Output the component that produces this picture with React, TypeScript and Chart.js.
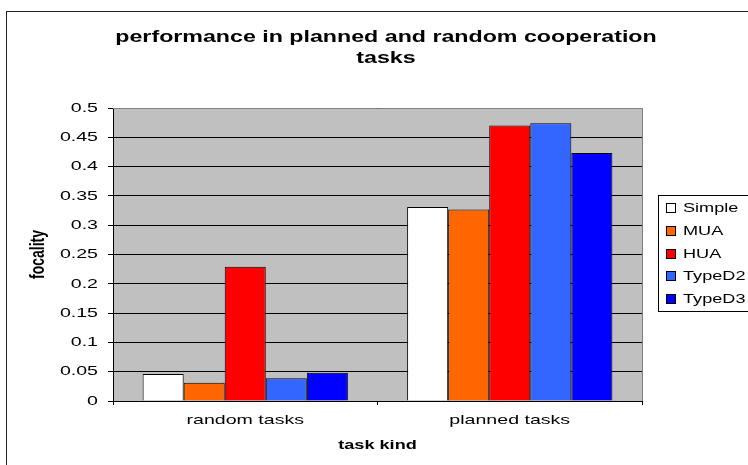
import React, { useEffect, useRef } from "react";
import { Chart, registerables } from "chart.js";

Chart.register(...registerables);

const categories = ["random tasks", "planned tasks"];
const seriesNames = ["Simple", "MUA", "HUA", "TypeD2", "TypeD3"];
const simpleValues = [0.046, 0.331];
const muaValues = [0.031, 0.327];
const huaValues = [0.229, 0.47];
const typeD2Values = [0.039, 0.474];
const typeD3Values = [0.048, 0.423];
const seriesColors = ["#ffffff", "#ff6600", "#ff0000", "#3366ff", "#0000ff"];
const titleLines = ["performance in planned and random cooperation", "tasks"];
const yTitle = "focality";
const xTitle = "task kind";

const FONT = "'Liberation Sans', Arial, sans-serif";
const SX = 1.45;

function stretchText(
  ctx: CanvasRenderingContext2D,
  text: string,
  x: number,
  y: number,
  font: string,
  align: CanvasTextAlign,
  rotate = false
) {
  ctx.save();
  ctx.translate(x, y);
  if (rotate) {
    ctx.rotate(-Math.PI / 2);
    ctx.scale(1, SX);
  } else {
    ctx.scale(SX, 1);
  }
  ctx.font = font;
  ctx.textAlign = align;
  ctx.textBaseline = "middle";
  ctx.fillStyle = "#000000";
  ctx.fillText(text, 0, 0);
  ctx.restore();
}

export default function App() {
  const ref = useRef<HTMLCanvasElement | null>(null);

  useEffect(() => {
    const canvas = ref.current;
    if (!canvas) return;
    const values = [simpleValues, muaValues, huaValues, typeD2Values, typeD3Values];

    const framePlugin = {
      id: "frame",
      beforeDraw(chart: any) {
        const { ctx, chartArea } = chart;
        ctx.save();
        ctx.fillStyle = "#ffffff";
        ctx.fillRect(0, 0, chart.width, chart.height);
        ctx.fillStyle = "#c0c0c0";
        ctx.fillRect(chartArea.left, chartArea.top, chartArea.right - chartArea.left, chartArea.bottom - chartArea.top);
        ctx.restore();
      },
      afterDraw(chart: any) {
        const { ctx, chartArea } = chart;
        ctx.save();
        // plot top/right border
        ctx.strokeStyle = "#808080";
        ctx.lineWidth = 1;
        ctx.beginPath();
        ctx.moveTo(chartArea.left, Math.round(chartArea.top) + 0.5);
        ctx.lineTo(Math.round(chartArea.right) + 0.5, Math.round(chartArea.top) + 0.5);
        ctx.lineTo(Math.round(chartArea.right) + 0.5, chartArea.bottom);
        ctx.stroke();
        // outer chart border
        ctx.strokeStyle = "#222222";
        ctx.strokeRect(6.5, 11.5, 900, 600);

        // title
        const tf = `bold 16px ${FONT}`;
        titleLines.forEach((line, i) => {
          stretchText(ctx, line, 386, 38 + i * 20.5, tf, "center");
        });

        // y tick labels
        const ys = chart.scales.y;
        const tickFont = `13.5px ${FONT}`;
        ys.ticks.forEach((t: any) => {
          const py = ys.getPixelForValue(t.value);
          stretchText(ctx, String(Number(Number(t.value).toFixed(2))), 98, py, tickFont, "right");
        });
        // x tick labels
        const xs = chart.scales.x;
        xs.getLabels().forEach((lab: string, i: number) => {
          const px = xs.getPixelForValue(i);
          stretchText(ctx, lab, px, 420, tickFont, "center");
        });
        // axis titles
        const axf = `bold 12.5px ${FONT}`;
        stretchText(ctx, xTitle, (chartArea.left + chartArea.right) / 2, 446, axf, "center");
        stretchText(ctx, yTitle, 38, (chartArea.top + chartArea.bottom) / 2, `bold 14px ${FONT}`, "center", true);

        // legend
        const lx = 658.5;
        const ly = 195.5;
        ctx.strokeStyle = "#000000";
        ctx.lineWidth = 1;
        ctx.strokeRect(lx, ly, 200, 116);
        chart.data.datasets.forEach((ds: any, i: number) => {
          const cy = 208 + i * 22.8;
          const by = Math.round(cy - 4);
          ctx.fillStyle = ds.backgroundColor;
          ctx.fillRect(667, by, 8, 8);
          ctx.strokeStyle = "#000000";
          ctx.strokeRect(666.5, by - 0.5, 9, 9);
          stretchText(ctx, ds.label, 683, cy + 0.5, `12.5px ${FONT}`, "left");
        });
        ctx.restore();
      },
    };

    const chart = new Chart(canvas, {
      type: "bar",
      data: {
        labels: categories,
        datasets: seriesNames.map((name, i) => ({
          label: name,
          data: values[i],
          backgroundColor: seriesColors[i],
          borderColor: "#000000",
          borderWidth: 1,
          categoryPercentage: 0.776,
          barPercentage: 1,
        })),
      },
      options: {
        responsive: false,
        animation: false,
        devicePixelRatio: 1,
        layout: { padding: { left: 0, right: 106, top: 108, bottom: 0 } },
        plugins: {
          legend: { display: false },
          tooltip: { enabled: false },
          title: { display: false },
        },
        scales: {
          x: {
            afterFit(scale: any) {
              scale.height = 64;
            },
            grid: {
              offset: true,
              drawOnChartArea: false,
              tickLength: 4,
              color: "#000000",
            },
            border: { color: "#000000", width: 1 },
            ticks: { display: false },
          },
          y: {
            min: 0,
            max: 0.5,
            afterFit(scale: any) {
              scale.width = 113;
            },
            grid: { color: "#000000", tickLength: 5 },
            border: { color: "#000000", width: 1 },
            ticks: { stepSize: 0.05, display: false },
          },
        },
      },
      plugins: [framePlugin],
    } as any);

    return () => chart.destroy();
  }, []);

  return (
    <div style={{ position: "fixed", left: 0, top: 0, width: 748, height: 465, background: "#fff" }}>
      <canvas ref={ref} width={748} height={465} style={{ display: "block" }} />
    </div>
  );
}
